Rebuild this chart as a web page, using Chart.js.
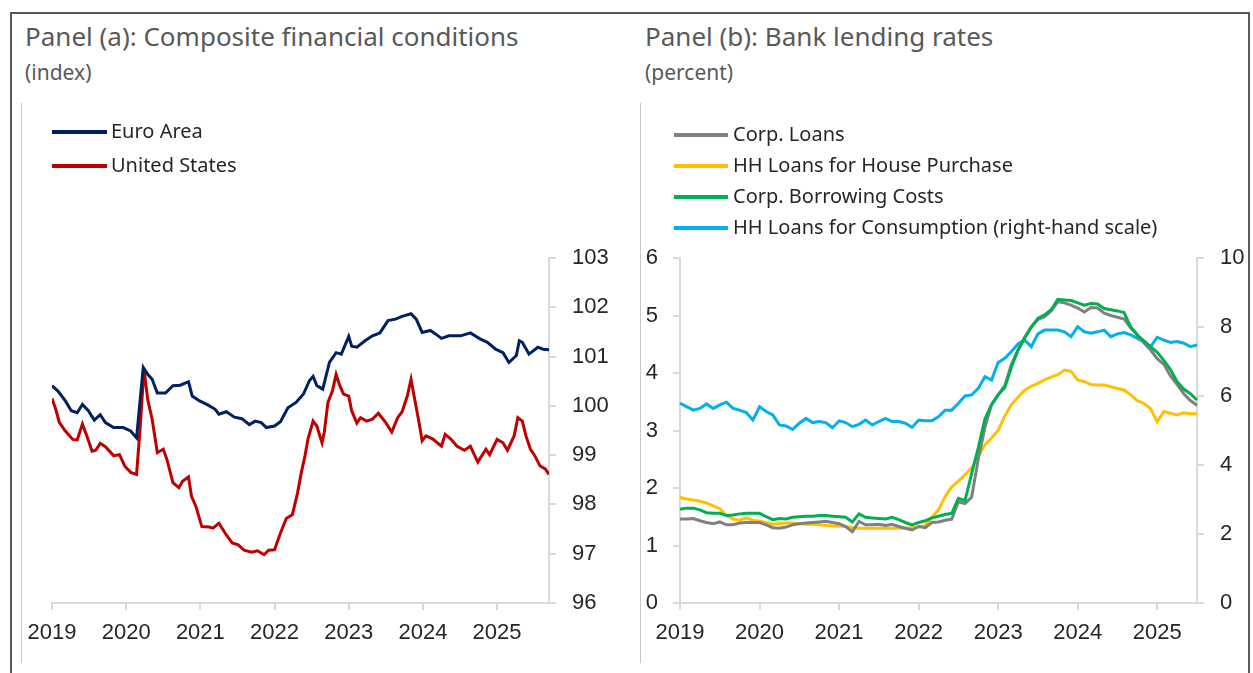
<!DOCTYPE html>
<html>
<head>
<meta charset="utf-8">
<script src="https://cdn.jsdelivr.net/npm/chart.js@4.4.1/dist/chart.umd.min.js"></script>
<style>
  html, body { margin: 0; padding: 0; background: #fff; }
  body { width: 1253px; height: 673px; position: relative; overflow: hidden; font-family: "Noto Sans", sans-serif; }
  .frame { position: absolute; left: 10px; top: 12px; width: 1236px; height: 700px; border: 2px solid #595959; border-bottom: none; }
  .title { position: absolute; color: #595959; font-size: 26px; white-space: nowrap; line-height: 1; }
  .sub { position: absolute; color: #595959; font-size: 21px; white-space: nowrap; line-height: 1; }
  .panel { position: absolute; top: 103px; height: 560px; border-left: 1px solid #c8c8c8; }
  canvas { display: block; }
</style>
</head>
<body>
<div class="frame"></div>
<div class="title" style="left:25px; top:23px;">Panel (a): Composite financial conditions</div>
<div class="sub" style="left:25px; top:62px;">(index)</div>
<div class="title" style="left:645px; top:23px;">Panel (b): Bank lending rates</div>
<div class="sub" style="left:645px; top:62px;">(percent)</div>

<div class="panel" style="left:21px; width:603px;"><canvas id="fciChart" width="603" height="560"></canvas></div>
<div class="panel" style="left:640px; width:607px;"><canvas id="ratesChart" width="607" height="560"></canvas></div>

<script>
// Panel (a): composite financial conditions, index (dates in decimal years)
const euroDates = [
  2019.00, 2019.08, 2019.18, 2019.26, 2019.34, 2019.41, 2019.49, 2019.57, 2019.65, 2019.72,
  2019.83, 2019.96, 2020.06, 2020.14, 2020.23, 2020.29, 2020.35, 2020.42, 2020.53, 2020.63,
  2020.73, 2020.84, 2020.89, 2020.99, 2021.10, 2021.20, 2021.25, 2021.35, 2021.46, 2021.56,
  2021.66, 2021.74, 2021.82, 2021.89, 2022.00, 2022.08, 2022.18, 2022.29, 2022.39, 2022.47,
  2022.52, 2022.57, 2022.65, 2022.74, 2022.83, 2022.90, 2023.00, 2023.04, 2023.11, 2023.22,
  2023.32, 2023.42, 2023.53, 2023.63, 2023.73, 2023.84, 2023.91, 2023.99, 2024.10, 2024.17,
  2024.25, 2024.35, 2024.51, 2024.64, 2024.77, 2024.87, 2024.98, 2025.08, 2025.16, 2025.26,
  2025.30, 2025.34, 2025.43, 2025.55, 2025.62, 2025.70,
];
const euroValues = [
  100.41, 100.30, 100.10, 99.90, 99.86, 100.03, 99.90, 99.71, 99.82, 99.66,
  99.56, 99.56, 99.49, 99.35, 100.78, 100.64, 100.54, 100.26, 100.26, 100.41,
  100.42, 100.49, 100.20, 100.10, 100.02, 99.93, 99.83, 99.88, 99.77, 99.74,
  99.62, 99.69, 99.66, 99.56, 99.59, 99.68, 99.96, 100.07, 100.24, 100.51,
  100.60, 100.41, 100.34, 100.88, 101.08, 101.05, 101.41, 101.21, 101.19, 101.32,
  101.42, 101.48, 101.73, 101.76, 101.82, 101.87, 101.76, 101.49, 101.53, 101.46,
  101.37, 101.42, 101.42, 101.48, 101.36, 101.29, 101.15, 101.08, 100.88, 101.02,
  101.32, 101.29, 101.05, 101.19, 101.15, 101.14,
];
const usDates = [
  2019.00, 2019.05, 2019.10, 2019.18, 2019.28, 2019.34, 2019.41, 2019.47, 2019.54, 2019.59,
  2019.65, 2019.72, 2019.83, 2019.91, 2019.98, 2020.06, 2020.14, 2020.19, 2020.24, 2020.29,
  2020.35, 2020.42, 2020.50, 2020.55, 2020.63, 2020.71, 2020.76, 2020.84, 2020.88, 2020.94,
  2021.02, 2021.12, 2021.17, 2021.25, 2021.35, 2021.43, 2021.51, 2021.59, 2021.69, 2021.77,
  2021.86, 2021.92, 2022.00, 2022.08, 2022.16, 2022.24, 2022.31, 2022.36, 2022.41, 2022.45,
  2022.52, 2022.57, 2022.64, 2022.67, 2022.72, 2022.78, 2022.83, 2022.88, 2022.93, 2023.00,
  2023.04, 2023.11, 2023.16, 2023.24, 2023.32, 2023.40, 2023.50, 2023.58, 2023.66, 2023.72,
  2023.79, 2023.84, 2023.89, 2023.94, 2023.99, 2024.04, 2024.13, 2024.25, 2024.30, 2024.38,
  2024.46, 2024.56, 2024.64, 2024.74, 2024.85, 2024.90, 2025.00, 2025.08, 2025.14, 2025.23,
  2025.28, 2025.34, 2025.39, 2025.45, 2025.50, 2025.58, 2025.65, 2025.70,
];
const usValues = [
  100.15, 99.93, 99.66, 99.49, 99.32, 99.31, 99.63, 99.39, 99.08, 99.10,
  99.24, 99.17, 98.99, 99.01, 98.78, 98.65, 98.61, 99.59, 100.75, 100.13,
  99.73, 99.05, 99.12, 98.91, 98.44, 98.34, 98.47, 98.56, 98.17, 97.96,
  97.55, 97.54, 97.52, 97.62, 97.38, 97.22, 97.18, 97.07, 97.03, 97.06,
  96.98, 97.07, 97.08, 97.42, 97.72, 97.79, 98.23, 98.64, 98.98, 99.32,
  99.69, 99.59, 99.25, 99.46, 100.07, 100.30, 100.64, 100.41, 100.24, 100.20,
  99.90, 99.65, 99.76, 99.69, 99.73, 99.85, 99.66, 99.47, 99.76, 99.88,
  100.20, 100.54, 100.13, 99.73, 99.29, 99.39, 99.33, 99.18, 99.42, 99.32,
  99.18, 99.10, 99.18, 98.86, 99.12, 99.01, 99.32, 99.25, 99.10, 99.39,
  99.76, 99.69, 99.39, 99.12, 99.01, 98.78, 98.72, 98.61,
];
const yearTicks = [2019, 2020, 2021, 2022, 2023, 2024, 2025];

// Panel (b): bank lending rates, monthly Jan 2019 - Jul 2025
const months = [];
for (let y = 2019; y <= 2025; y++) {
  for (let m = 1; m <= 12; m++) {
    if (y === 2025 && m > 7) break;
    months.push(y + '-' + String(m).padStart(2, '0'));
  }
}
const corpLoans = [
  1.46, 1.46, 1.47, 1.43, 1.40, 1.38, 1.41, 1.36, 1.36, 1.39,
  1.40, 1.40, 1.40, 1.36, 1.31, 1.30, 1.32, 1.36, 1.38, 1.39,
  1.40, 1.41, 1.42, 1.40, 1.38, 1.33, 1.24, 1.42, 1.36, 1.36,
  1.37, 1.35, 1.37, 1.33, 1.30, 1.27, 1.33, 1.31, 1.40, 1.41,
  1.44, 1.46, 1.76, 1.73, 1.84, 2.50, 3.05, 3.45, 3.62, 3.78,
  4.15, 4.40, 4.60, 4.80, 4.93, 4.98, 5.08, 5.24, 5.22, 5.18,
  5.13, 5.06, 5.14, 5.13, 5.04, 5.00, 4.97, 4.94, 4.78, 4.66,
  4.52, 4.40, 4.25, 4.15, 3.95, 3.80, 3.64, 3.52, 3.44,
];
const hhHouse = [
  1.84, 1.81, 1.79, 1.77, 1.74, 1.69, 1.64, 1.52, 1.46, 1.44,
  1.48, 1.44, 1.42, 1.40, 1.37, 1.38, 1.39, 1.39, 1.38, 1.37,
  1.37, 1.36, 1.35, 1.34, 1.34, 1.33, 1.31, 1.30, 1.30, 1.30,
  1.30, 1.30, 1.30, 1.30, 1.30, 1.31, 1.32, 1.35, 1.49, 1.62,
  1.85, 2.02, 2.12, 2.23, 2.35, 2.55, 2.75, 2.87, 3.00, 3.25,
  3.45, 3.58, 3.70, 3.77, 3.82, 3.88, 3.93, 3.97, 4.05, 4.03,
  3.88, 3.85, 3.80, 3.79, 3.79, 3.76, 3.73, 3.70, 3.62, 3.52,
  3.47, 3.38, 3.15, 3.33, 3.30, 3.27, 3.31, 3.29, 3.29,
];
const corpBorrowing = [
  1.63, 1.65, 1.65, 1.62, 1.57, 1.56, 1.56, 1.52, 1.53, 1.55,
  1.56, 1.56, 1.56, 1.50, 1.45, 1.47, 1.46, 1.49, 1.50, 1.51,
  1.51, 1.52, 1.52, 1.51, 1.50, 1.49, 1.41, 1.55, 1.49, 1.48,
  1.47, 1.46, 1.49, 1.45, 1.40, 1.36, 1.40, 1.43, 1.48, 1.51,
  1.54, 1.56, 1.82, 1.78, 2.25, 2.70, 3.20, 3.45, 3.62, 3.75,
  4.10, 4.40, 4.62, 4.80, 4.95, 5.01, 5.10, 5.28, 5.27, 5.26,
  5.22, 5.18, 5.21, 5.20, 5.12, 5.10, 5.08, 5.05, 4.80, 4.66,
  4.56, 4.46, 4.36, 4.22, 4.06, 3.85, 3.72, 3.64, 3.53,
];
const hhConsumption = [
  5.79, 5.69, 5.59, 5.64, 5.77, 5.64, 5.74, 5.82, 5.64, 5.59,
  5.52, 5.30, 5.69, 5.55, 5.45, 5.16, 5.13, 5.03, 5.21, 5.35,
  5.23, 5.26, 5.23, 5.08, 5.28, 5.23, 5.11, 5.18, 5.30, 5.16,
  5.26, 5.35, 5.26, 5.26, 5.21, 5.09, 5.30, 5.28, 5.28, 5.40,
  5.59, 5.59, 5.79, 6.00, 6.03, 6.22, 6.56, 6.46, 6.97, 7.09,
  7.29, 7.51, 7.62, 7.43, 7.80, 7.91, 7.91, 7.91, 7.86, 7.72,
  8.01, 7.86, 7.82, 7.86, 7.91, 7.72, 7.80, 7.84, 7.77, 7.67,
  7.57, 7.43, 7.70, 7.62, 7.55, 7.58, 7.53, 7.43, 7.48,
];

const axisColor = '#d9d9d9';
const tickFont = { family: '"Liberation Sans", Arial, sans-serif', size: 22 };
const tickColor = '#262626';

// legend drawn as a vertical list of line samples
const lineLegend = {
  id: 'lineLegend',
  afterDraw(chart, args, opts) {
    const ctx = chart.ctx;
    ctx.save();
    ctx.font = opts.font;
    ctx.textBaseline = 'middle';
    ctx.fillStyle = opts.color;
    chart.data.datasets.forEach((ds, i) => {
      const y = opts.y + i * opts.gap;
      ctx.strokeStyle = ds.borderColor;
      ctx.lineWidth = 4;
      ctx.beginPath();
      ctx.moveTo(opts.x, y);
      ctx.lineTo(opts.x + opts.len, y);
      ctx.stroke();
      ctx.fillText(ds.label, opts.x + opts.len + opts.textGap, y);
    });
    ctx.restore();
  },
};

const pairs = (xs, ys) => xs.map((x, i) => ({ x: x, y: ys[i] }));

const axisGrid = { drawOnChartArea: false, color: axisColor, lineWidth: 2, tickLength: 7 };
const axisBorder = { color: axisColor, width: 2 };

// Chart 1: panel (a)
new Chart(document.getElementById('fciChart'), {
  type: 'line',
  data: {
    datasets: [
      { label: 'Euro Area', data: pairs(euroDates, euroValues), borderColor: '#002060' },
      { label: 'United States', data: pairs(usDates, usValues), borderColor: '#c00000' },
    ],
  },
  options: {
    responsive: false,
    animation: false,
    layout: { padding: { left: 30, top: 155, right: 0, bottom: 0 } },
    elements: { point: { radius: 0 }, line: { borderWidth: 3, tension: 0 } },
    plugins: {
      legend: { display: false },
      tooltip: { enabled: false },
      lineLegend: { x: 30, y: 29, gap: 34, len: 55, textGap: 4, font: '20px "Noto Sans"', color: '#262626' },
    },
    scales: {
      x: {
        type: 'linear',
        min: 2019,
        max: 2025.7,
        afterBuildTicks: (s) => { s.ticks = yearTicks.map((v) => ({ value: v })); },
        afterFit: (s) => { s.height = 60; s.paddingLeft = 0; s.paddingRight = 0; },
        grid: axisGrid,
        border: axisBorder,
        ticks: { font: tickFont, color: tickColor, padding: 10, maxRotation: 0, callback: (v) => String(v) },
      },
      y: {
        position: 'right',
        min: 96,
        max: 103,
        afterFit: (s) => { s.width = 76; },
        grid: axisGrid,
        border: axisBorder,
        ticks: { stepSize: 1, font: tickFont, color: tickColor, padding: 16 },
      },
    },
  },
  plugins: [lineLegend],
});

// Chart 2: panel (b)
new Chart(document.getElementById('ratesChart'), {
  type: 'line',
  data: {
    labels: months,
    datasets: [
      { label: 'Corp. Loans', data: corpLoans, borderColor: '#808080', yAxisID: 'y', order: 1 },
      { label: 'HH Loans for House Purchase', data: hhHouse, borderColor: '#ffc000', yAxisID: 'y', order: 2 },
      { label: 'Corp. Borrowing Costs', data: corpBorrowing, borderColor: '#00b050', yAxisID: 'y', order: 0 },
      { label: 'HH Loans for Consumption (right-hand scale)', data: hhConsumption, borderColor: '#00b0f0', yAxisID: 'y2', order: 3 },
    ],
  },
  options: {
    responsive: false,
    animation: false,
    layout: { padding: { left: 0, top: 155, right: 0, bottom: 0 } },
    elements: { point: { radius: 0 }, line: { borderWidth: 3, tension: 0 } },
    plugins: {
      legend: { display: false },
      tooltip: { enabled: false },
      lineLegend: { x: 33, y: 32, gap: 31, len: 54, textGap: 5, font: '20px "Noto Sans"', color: '#262626' },
    },
    scales: {
      x: {
        type: 'category',
        offset: false,
        afterFit: (s) => { s.height = 60; },
        grid: { ...axisGrid, offset: false },
        border: axisBorder,
        ticks: {
          font: tickFont,
          color: tickColor,
          padding: 10,
          maxRotation: 0,
          autoSkip: false,
          callback: function (v) {
            const l = this.getLabelForValue(v);
            return l.endsWith('-01') ? l.slice(0, 4) : null;
          },
        },
      },
      y: {
        position: 'left',
        min: 0,
        max: 6,
        afterFit: (s) => { s.width = 39; },
        grid: axisGrid,
        border: axisBorder,
        ticks: { stepSize: 1, font: tickFont, color: tickColor, padding: 15 },
      },
      y2: {
        position: 'right',
        min: 0,
        max: 10,
        afterFit: (s) => { s.width = 51; },
        grid: axisGrid,
        border: axisBorder,
        ticks: { stepSize: 2, font: tickFont, color: tickColor, padding: 16 },
      },
    },
  },
  plugins: [lineLegend],
});
</script>
</body>
</html>
